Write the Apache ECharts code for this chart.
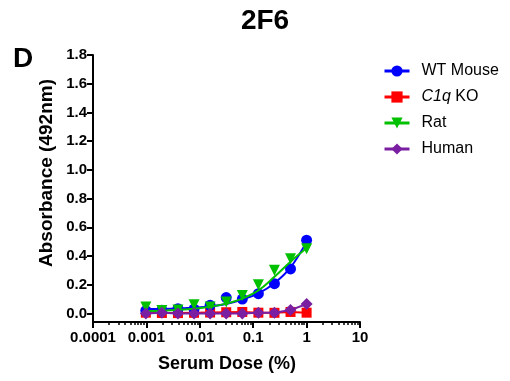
<!DOCTYPE html>
<html>
<head>
<meta charset="utf-8">
<script src="https://cdn.jsdelivr.net/npm/echarts@6/dist/echarts.min.js"></script>
<style>
html,body{margin:0;padding:0;background:#fff;}
#chart{width:510px;height:381px;}
</style>
</head>
<body>
<div id="chart"></div>
<script>
// ---- data ----
const doses = [0.000977, 0.00195, 0.0039, 0.0078, 0.0156, 0.03125, 0.0625, 0.125, 0.25, 0.5, 1];
const wtMouse = [0.02, 0.022, 0.033, 0.03, 0.056, 0.11, 0.1, 0.137, 0.207, 0.31, 0.51];
const c1qKO   = [0.005, 0.003, 0.002, 0.004, 0.006, 0.008, 0.01, 0.005, 0.004, 0.01, 0.005];
const rat     = [0.045, 0.02, 0.024, 0.06, 0.045, 0.08, 0.125, 0.2, 0.3, 0.38, 0.45];
const human   = [0.0, 0.005, 0.0, 0.0, 0.0, 0.0, 0.0, 0.005, 0.005, 0.023, 0.065];
const wtMouseFit = [0.03, 0.031, 0.034, 0.039, 0.048, 0.066, 0.097, 0.14, 0.21, 0.32, 0.5];
const ratFit     = [0.016, 0.019, 0.024, 0.032, 0.046, 0.068, 0.103, 0.16, 0.255, 0.36, 0.455];
const seriesNames = ['WT Mouse', 'C1q KO', 'Rat', 'Human'];
const xTickLabels = ['0.0001', '0.001', '0.01', '0.1', '1', '10'];
const yTicks = [0, 0.2, 0.4, 0.6, 0.8, 1.0, 1.2, 1.4, 1.6, 1.8];

const FONT = 'Arial, "Liberation Sans", Helvetica, sans-serif';
const pair = (xs, ys) => xs.map((x, i) => [x, ys[i]]);

// minor log ticks (2..9 in each decade), in log10 space
const minorTicks = [];
for (let d = -4; d < 1; d++) {
  for (let k = 2; k <= 9; k++) minorTicks.push(d + Math.log10(k));
}

const chart = echarts.init(document.getElementById('chart'), null, {renderer: 'canvas'});
const option = {
  animation: false,
  backgroundColor: '#fff',
  textStyle: {fontFamily: FONT},
  grid: {left: 93, right: 150, top: 55, bottom: 59, containLabel: false},
  legend: {
    orient: 'vertical',
    left: 383,
    top: 63,
    padding: 0,
    itemWidth: 25,
    itemHeight: 14,
    itemGap: 10,
    data: seriesNames,
    lineStyle: {width: 3, opacity: 1},
    formatter: n => n === 'C1q KO' ? '{i|C1q} KO' : n,
    textStyle: {
      fontFamily: FONT, fontSize: 16, color: '#000', padding: [0, 0, 0, 7],
      rich: {i: {fontFamily: FONT, fontSize: 16, fontStyle: 'italic', color: '#000'}}
    }
  },
  xAxis: [{
    type: 'log', logBase: 10, min: 0.0001, max: 10, position: 'bottom',
    axisLine: {show: true, onZero: false, lineStyle: {color: '#000', width: 2}},
    axisTick: {show: true, inside: false, length: 6, lineStyle: {color: '#000', width: 2}},
    axisLabel: {
      margin: 8, color: '#000', fontFamily: FONT, fontSize: 15, fontWeight: 'bold',
      formatter: v => xTickLabels[Math.round(Math.log10(v)) + 4]
    },
    splitLine: {show: false}
  }, {
    type: 'value', min: -4, max: 1, position: 'bottom',
    axisLine: {show: false, onZero: false},
    axisTick: {show: true, inside: false, length: 3, customValues: minorTicks, lineStyle: {color: '#000', width: 1.5}},
    axisLabel: {show: false},
    splitLine: {show: false}
  }],
  yAxis: {
    type: 'value', min: -0.06, max: 1.8,
    axisLine: {show: true, onZero: false, lineStyle: {color: '#000', width: 2}},
    axisTick: {show: true, inside: false, length: 6, customValues: yTicks, lineStyle: {color: '#000', width: 2}},
    axisLabel: {
      customValues: yTicks, margin: 6, color: '#000', fontFamily: FONT, fontSize: 15, fontWeight: 'bold',
      formatter: v => Number(v).toFixed(1)
    },
    splitLine: {show: false}
  },
  series: [
    {name: 'WT Mouse fit', type: 'line', data: pair(doses, wtMouseFit), smooth: 0.4, symbol: 'none',
     lineStyle: {color: '#0000ff', width: 2}, silent: true, z: 2},
    {name: 'C1q KO', type: 'line', data: pair(doses, c1qKO), symbol: 'rect', symbolSize: 10,
     itemStyle: {color: '#ff0000'}, lineStyle: {color: '#ff0000', width: 2}, z: 3},
    {name: 'WT Mouse', type: 'line', data: pair(doses, wtMouse), symbol: 'circle', symbolSize: 11,
     itemStyle: {color: '#0000ff'}, lineStyle: {color: '#0000ff', width: 0, opacity: 0}, z: 3},
    {name: 'Rat', type: 'line', data: pair(doses, rat), symbol: 'triangle', symbolSize: 11, symbolRotate: 180,
     itemStyle: {color: '#00c000'}, lineStyle: {color: '#00c000', width: 0, opacity: 0}, z: 4},
    {name: 'Rat fit', type: 'line', data: pair(doses, ratFit), smooth: 0.4, symbol: 'none',
     lineStyle: {color: '#00c000', width: 2}, silent: true, z: 4},
    {name: 'Human', type: 'line', data: pair(doses, human), symbol: 'diamond', symbolSize: 12,
     itemStyle: {color: '#7a1fa2'}, lineStyle: {color: '#7a1fa2', width: 2}, z: 5}
  ],
  graphic: [
    {type: 'text', x: 265, y: 21, style: {text: '2F6', font: 'bold 28px ' + FONT, fill: '#000', align: 'center', verticalAlign: 'middle'}},
    {type: 'text', x: 13, y: 59, style: {text: 'D', font: 'bold 28px ' + FONT, fill: '#000', align: 'left', verticalAlign: 'middle'}},
    {type: 'text', x: 227, y: 364, style: {text: 'Serum Dose (%)', font: 'bold 18px ' + FONT, fill: '#000', align: 'center', verticalAlign: 'middle'}},
    {type: 'text', x: 47, y: 173, rotation: Math.PI / 2, style: {text: 'Absorbance (492nm)', font: 'bold 19px ' + FONT, fill: '#000', align: 'center', verticalAlign: 'middle'}}
  ]
};
chart.setOption(option);
</script>
</body>
</html>
